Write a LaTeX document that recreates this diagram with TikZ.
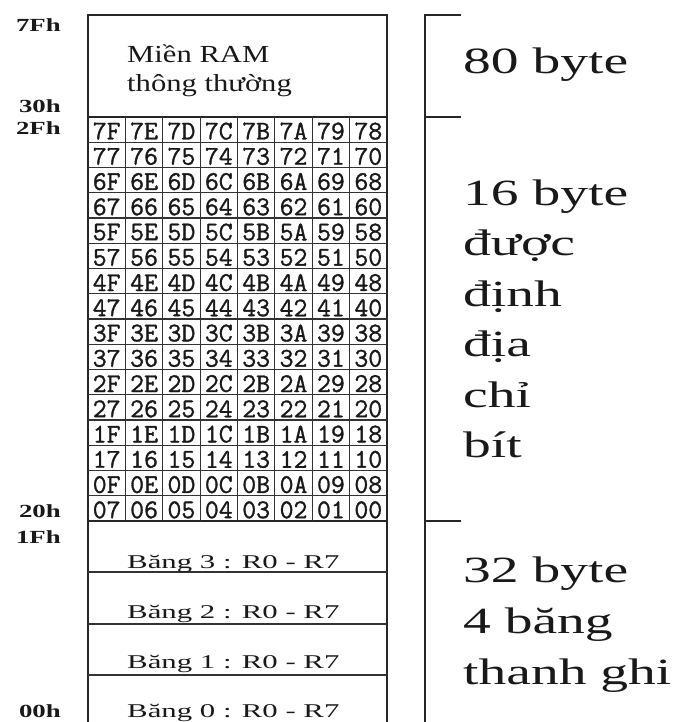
\documentclass[tikz,border=0pt]{standalone}
\usepackage{fontspec}
\setmainfont{Liberation Serif}
\newfontfamily\hexfont[FakeBold=1.2]{Latin Modern Mono}
\usepackage{graphicx}
\newcommand\widetext[2]{\scalebox{#1}[1]{#2}}
\tikzset{
  frame/.style={line width=1.4pt, black!85},
  cellline/.style={line width=1.2pt, black!80},
  hexcell/.style={inner sep=0pt, text=black!90,
    font=\hexfont\fontsize{27}{27}\selectfont},
  addr/.style={anchor=base east, inner sep=0pt, text=black!90,
    font=\bfseries\fontsize{18.5}{18.5}\selectfont},
  boxtxt/.style={anchor=base west, inner sep=0pt, text=black!90,
    font=\fontsize{24.5}{24.5}\selectfont},
  banktxt/.style={anchor=base west, inner sep=0pt, text=black!90,
    font=\fontsize{19.5}{19.5}\selectfont},
  sidetxt/.style={anchor=base west, inner sep=0pt, text=black!90,
    font=\fontsize{37}{37}\selectfont},
}
\begin{document}
\begin{tikzpicture}[x=1pt,y=-1pt]
\useasboundingbox (0,0) rectangle (677,722);

% outer column of the internal RAM
\draw[frame] (88,722) -- (88,15) -- (387,15) -- (387,722);
\draw[frame] (88,117) -- (387,117);
\draw[frame] (88,521) -- (387,521);
\foreach \yy in {572,624,675} \draw[cellline] (88,\yy) -- (387,\yy);

% bit-addressable area: 16 rows x 8 columns
\def\rowh{25.25}
\def\colw{37.375}
\foreach \k in {1,...,15} \draw[cellline] (88,117+\k*\rowh) -- (387,117+\k*\rowh);
\foreach \k in {1,...,7} \draw[cellline] (88+\k*\colw,117) -- (88+\k*\colw,521);
\foreach \h [count=\i from 0] in {7,6,5,4,3,2,1,0} {
  \foreach \half in {0,1} {
    \ifnum\half=0 \def\lows{F,E,D,C,B,A,9,8}\else\def\lows{7,6,5,4,3,2,1,0}\fi
    \foreach \l [count=\c from 0] in \lows {
      \node[hexcell] (cell-\h\l) at (88+\c*\colw+0.5*\colw, 117+2*\i*\rowh+\half*\rowh+0.5*\rowh+1.5) {\h\l};
    }
  }
}

% general purpose area
\node[boxtxt] (ram1) at (127,63) {\widetext{1.25}{Miền RAM}};
\node[boxtxt] (ram2) at (127,92) {\widetext{1.25}{thông thường}};

% register banks
\node[banktxt] (bank3) at (127,568) {\widetext{1.58}{Băng 3 : R0 - R7}};
\node[banktxt] (bank2) at (127,618) {\widetext{1.58}{Băng 2 : R0 - R7}};
\node[banktxt] (bank1) at (127,668) {\widetext{1.58}{Băng 1 : R0 - R7}};
\node[banktxt] (bank0) at (127,717) {\widetext{1.58}{Băng 0 : R0 - R7}};

% addresses
\node[addr] (a7F) at (61,32)  {\widetext{1.45}{7Fh}};
\node[addr] (a30) at (61,113) {\widetext{1.45}{30h}};
\node[addr] (a2F) at (61,135) {\widetext{1.45}{2Fh}};
\node[addr] (a20) at (61,517) {\widetext{1.45}{20h}};
\node[addr] (a1F) at (61,543) {\widetext{1.45}{1Fh}};
\node[addr] (a00) at (61,717) {\widetext{1.45}{00h}};

% bracket on the right
\draw[frame] (461,15) -- (425,15) -- (425,722);
\draw[frame] (425,117) -- (461,117);
\draw[frame] (425,521) -- (461,521);

% sizes of the areas
\node[sidetxt] (s80) at (463,74) {\widetext{1.5}{80 byte}};
\node[sidetxt] (s16a) at (463,205) {\widetext{1.5}{16 byte}};
\node[sidetxt] (s16b) at (463,255.5) {\widetext{1.5}{được}};
\node[sidetxt] (s16c) at (463,306) {\widetext{1.5}{định}};
\node[sidetxt] (s16d) at (463,356.5) {\widetext{1.5}{địa}};
\node[sidetxt] (s16e) at (463,407) {\widetext{1.5}{chỉ}};
\node[sidetxt] (s16f) at (463,457.5) {\widetext{1.5}{bít}};
\node[sidetxt] (s32a) at (463,582) {\widetext{1.5}{32 byte}};
\node[sidetxt] (s32b) at (463,633) {\widetext{1.5}{4 băng}};
\node[sidetxt] (s32c) at (463,684) {\widetext{1.5}{thanh ghi}};
\end{tikzpicture}
\end{document}
